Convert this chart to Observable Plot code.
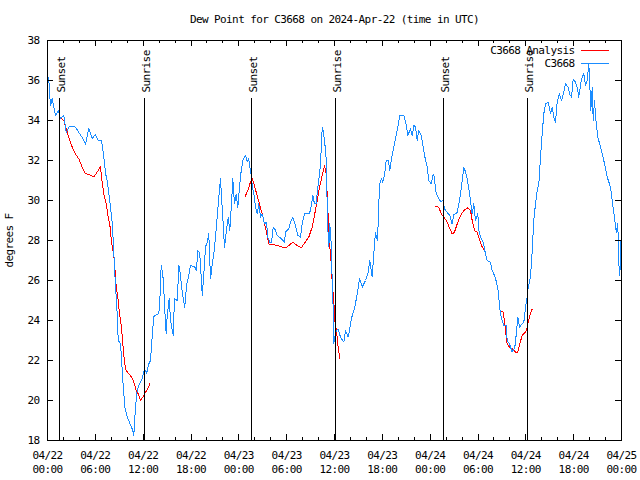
<!DOCTYPE html>
<html><head><meta charset="utf-8">
<script src="https://cdn.jsdelivr.net/npm/d3@7"></script>
<script src="https://cdn.jsdelivr.net/npm/@observablehq/plot@0.6"></script>
<style>
body{margin:0;background:#fff}
svg text{letter-spacing:-0.6px}
svg path, svg line{shape-rendering:crispEdges}
</style></head><body><div id="chart"></div>
<script>
// hours since 2024-04-22 00:00 UTC, dew point (F)
const station = [[0,36.2],[0.16,36.1],[0.25,35.4],[0.38,34.75],[0.59,35.1],[0.79,34.67],[1.0,34.25],[1.34,34.5],[1.63,34.1],[2.04,34.25],[2.35,33.4],[2.67,33.67],[3.10,33.7],[3.51,33.67],[3.93,33.4],[4.43,33.1],[4.77,32.8],[5.18,33.6],[5.61,33.1],[6.02,33.3],[6.36,33.0],[6.77,33.0],[7.06,32.2],[7.28,31.35],[7.49,31.0],[7.69,30.35],[7.90,29.67],[8.12,28.85],[8.24,28.0],[8.32,27.35],[8.44,26.35],[8.62,25.17],[8.74,24.35],[8.87,23.0],[9.16,22.85],[9.45,21.0],[9.70,19.67],[10.0,19.17],[10.29,18.9],[10.70,18.5],[10.83,18.25],[11.04,19.67],[11.25,20.5],[11.54,20.83],[11.88,21.1],[12.17,21.6],[12.42,21.35],[12.71,21.83],[12.92,22.0],[13.13,23.2],[13.33,24.2],[13.96,24.35],[14.09,25.0],[14.26,26.75],[14.46,26.35],[14.59,25.5],[14.80,23.85],[14.89,23.35],[15.01,24.2],[15.27,25.1],[15.43,24.0],[15.77,23.25],[15.93,25.1],[16.27,25.0],[16.49,26.75],[16.68,26.25],[16.90,25.4],[17.22,24.67],[17.44,25.75],[17.72,26.25],[17.94,26.75],[18.48,26.67],[18.69,26.5],[18.85,27.5],[19.10,27.35],[19.28,26.17],[19.41,25.25],[19.61,26.33],[19.82,27.67],[20.03,27.92],[20.23,28.33],[20.45,26.08],[20.66,26.83],[20.86,27.33],[21.07,28.17],[21.29,29.17],[21.49,30.17],[21.70,31.08],[21.83,30.17],[21.99,29.17],[22.20,27.67],[22.45,28.5],[22.67,29.17],[22.87,28.5],[23.08,29.83],[23.24,31.08],[23.46,29.83],[23.67,30.33],[23.87,29.67],[24.08,30.67],[24.30,31.5],[24.55,32.08],[24.84,32.25],[25.05,31.92],[25.25,32.08],[25.38,31.67],[25.55,31.25],[25.71,30.67],[25.88,30.33],[26.09,29.67],[26.30,29.33],[26.50,29.83],[26.72,29.17],[26.93,29.33],[27.22,28.83],[27.47,28.92],[27.63,28.17],[27.88,27.92],[28.10,27.92],[28.31,28.67],[28.51,28.58],[28.81,28.25],[29.23,28.13],[29.73,27.92],[29.85,28.42],[30.27,28.58],[30.48,28.92],[30.77,29.17],[31.11,28.75],[31.40,28.25],[31.74,28.17],[31.95,28.83],[32.24,29.33],[32.78,29.33],[32.99,29.5],[33.28,30.25],[33.49,29.83],[33.70,29.83],[33.91,30.67],[34.16,31.42],[34.33,32.5],[34.46,33.67],[34.58,33.5],[34.75,33.0],[34.87,32.5],[35.0,31.83],[35.08,29.67],[35.21,28.17],[35.29,27.67],[35.41,28.83],[35.59,27.83],[35.71,26.0],[35.84,24.5],[35.91,22.83],[36.04,23.17],[36.25,23.5],[36.46,23.58],[36.75,23.17],[37.17,22.92],[37.38,23.5],[37.72,23.17],[38.01,23.83],[38.22,24.25],[38.55,24.67],[38.85,25.33],[39.14,26.08],[39.48,25.67],[39.89,26.0],[40.23,26.42],[40.43,27.0],[40.73,26.17],[40.93,27.33],[41.14,28.42],[41.36,28.0],[41.48,28.83],[41.65,30.83],[41.90,31.08],[42.06,30.92],[42.27,31.25],[42.49,32.0],[42.74,32.0],[42.94,31.5],[43.11,32.0],[43.44,32.67],[43.86,33.5],[44.19,34.25],[44.69,34.25],[45.03,33.75],[45.19,33.25],[45.53,33.58],[45.75,33.25],[45.95,33.75],[46.16,33.67],[46.37,33.0],[46.57,33.5],[46.88,33.25],[47.20,32.5],[47.42,32.0],[47.63,31.67],[47.83,31.0],[48.13,30.83],[48.38,31.33],[48.54,31.17],[48.67,30.5],[48.88,30.25],[49.30,29.95],[49.63,30.0],[49.80,29.58],[50.14,29.4],[50.46,29.25],[50.74,28.83],[50.99,29.3],[51.39,29.4],[51.59,29.83],[51.81,30.33],[52.02,31.0],[52.22,31.67],[52.44,31.42],[52.65,31.08],[52.85,30.58],[53.06,30.0],[53.27,29.33],[53.47,29.83],[53.69,29.0],[53.98,29.33],[54.10,28.5],[54.31,28.17],[54.65,27.92],[54.94,27.33],[55.15,27.0],[55.57,26.92],[55.78,26.5],[56.07,26.25],[56.32,25.92],[56.53,25.5],[56.74,24.58],[56.91,24.17],[57.24,23.75],[57.54,23.75],[57.66,23.0],[57.95,22.83],[58.29,22.42],[58.62,22.67],[58.83,23.42],[58.99,24.17],[59.21,23.67],[59.54,23.83],[59.75,23.92],[59.96,24.67],[60.17,25.17],[60.30,25.67],[60.59,26.17],[60.80,27.5],[61.00,29.0],[61.21,29.83],[61.43,30.5],[61.63,30.83],[61.84,32.17],[62.05,33.33],[62.25,34.33],[62.47,34.83],[62.81,34.92],[63.10,34.33],[63.31,34.67],[63.51,34.17],[63.72,33.92],[63.93,34.92],[64.22,35.33],[64.48,35.0],[64.76,35.42],[64.98,35.83],[65.31,35.67],[65.48,35.33],[65.73,35.17],[65.94,36.08],[66.23,35.92],[66.44,35.67],[66.64,35.17],[66.98,36.08],[67.27,36.33],[67.48,35.75],[67.70,36.0],[67.90,36.83],[68.02,35.83],[68.15,34.5],[68.33,35.67],[68.45,34.0],[68.61,35.0],[68.83,33.83],[69.03,33.17],[69.37,32.67],[69.78,32.0],[70.21,31.17],[70.62,30.67],[70.83,30.0],[71.12,29.17],[71.34,28.42],[71.54,28.83],[71.66,26.83],[71.79,26.25],[71.97,28.33]];

// analysis; null breaks the line between segments
const analysis = [[1.63,34.13],[2.04,34.0],[2.35,33.58],[2.67,33.17],[3.10,32.67],[3.51,32.33],[3.93,32.08],[4.35,31.67],[4.68,31.37],[5.18,31.3],[5.81,31.17],[6.23,31.42],[6.65,31.7],[6.77,31.17],[7.06,30.33],[7.36,29.83],[7.61,29.17],[7.81,28.83],[8.03,27.92],[8.32,27.25],[8.44,26.67],[8.62,25.67],[8.87,25.0],[9.03,24.33],[9.28,23.67],[9.45,22.83],[9.66,21.92],[9.87,21.5],[10.20,21.33],[10.54,21.17],[10.83,20.92],[11.13,20.5],[11.38,20.33],[11.67,20.0],[11.95,20.17],[12.29,20.42],[12.58,20.58],[12.83,20.83],
[18.0,null],
[24.75,30.17],[25.13,30.5],[25.46,30.92],[25.71,31.08],[26.0,30.67],[26.30,30.25],[26.59,29.83],[26.93,29.33],[27.22,28.83],[27.47,28.42],[27.76,27.83],[28.19,27.8],[28.81,27.75],[29.85,27.63],[30.27,27.75],[30.77,27.92],[31.32,27.75],[31.82,27.63],[32.24,27.87],[32.78,28.17],[33.20,28.67],[33.49,29.25],[33.83,30.0],[34.16,30.75],[34.46,31.25],[34.75,31.75],[34.96,31.33],[35.08,30.33],[35.21,29.17],[35.34,28.0],[35.46,27.5],[35.59,26.83],[35.71,25.92],[35.91,25.0],[36.04,24.0],[36.25,23.5],[36.46,22.67],[36.67,22.08],
[42.0,null],
[48.67,29.7],[49.08,29.67],[49.39,29.33],[49.71,29.17],[50.14,28.92],[50.46,28.58],[50.77,28.33],[51.05,28.42],[51.39,28.83],[51.81,29.25],[52.22,29.5],[52.72,29.63],[53.06,29.5],[53.27,29.0],[53.56,28.5],[53.90,28.42],[54.23,28.0],[54.53,27.67],[54.82,27.5],[55.03,27.2],
[56.0,null],
[56.82,24.5],[57.16,24.42],[57.32,24.0],[57.54,23.17],[57.66,22.83],[57.95,22.67],[58.29,22.58],[58.70,22.42],[58.99,22.42],[59.24,22.83],[59.54,23.25],[59.83,23.37],[60.08,23.5],[60.30,23.92],[60.50,24.25],[60.80,24.58]];

const sunNames = ["Sunset","Sunrise","Sunset","Sunrise","Sunset","Sunrise"];
const sunHours = [1.55, 12.17, 25.59, 36.13, 49.71, 60.25];
const sunTop = 35.1, sunLabelY = 35.4;

const titleText = "Dew Point for C3668 on 2024-Apr-22 (time in UTC)";
const legendNames = ["C3668 Analysis", "C3668"];
const legendColors = ["#ff0000", "#1a8cff"];
const yTicks = [18,20,22,24,26,28,30,32,34,36,38];
const majorHours = [0,6,12,18,24,30,36,42,48,54,60,66,72];
const minorHours = [2,4,8,10,14,16,20,22,26,28,32,34,38,40,44,46,50,52,56,58,62,64,68,70];

const t0 = Date.UTC(2024, 3, 22);
const toDate = h => new Date(t0 + h * 3600e3);
const fmt = d3.utcFormat("%m/%d\n%H:%M");

const stationData = station.map(([h, v]) => ({t: toDate(h), v}));
const analysisData = analysis.map(([h, v]) => ({t: toDate(h), v}));
const sunData = sunHours.map((h, i) => ({t: toDate(h), name: sunNames[i]}));
const majors = majorHours.map(toDate), minors = minorHours.map(toDate);

const W = 640, H = 480, ML = 47, MR = 19, MT = 40, MB = 40;
const fw = W - ML - MR, fh = H - MT - MB;

const chart = Plot.plot({
  width: W, height: H,
  marginLeft: ML, marginRight: MR, marginTop: MT, marginBottom: MB,
  style: {fontFamily: "DejaVu Sans Mono", fontSize: "11px", background: "#fff", color: "#000", overflow: "visible"},
  x: {type: "utc", domain: [toDate(0), toDate(72)]},
  y: {domain: [18, 38]},
  marks: [
    Plot.line(analysisData, {x: "t", y: "v", stroke: legendColors[0], strokeWidth: 1}),
    Plot.line(stationData, {x: "t", y: "v", stroke: legendColors[1], strokeWidth: 1}),
    Plot.ruleX(sunData, {x: "t", y1: 18, y2: sunTop, stroke: "#000", strokeWidth: 1}),
    Plot.text(sunData, {x: "t", y: sunLabelY, text: "name", rotate: -90, textAnchor: "start", dx: 1.5, fill: "#000"}),
    // ticks (inward, mirrored)
    Plot.tickX(majors, {x: d => d, insetTop: fh - 6, stroke: "#000"}),
    Plot.tickX(majors, {x: d => d, insetBottom: fh - 6, stroke: "#000"}),
    Plot.tickX(minors, {x: d => d, insetTop: fh - 3, stroke: "#000"}),
    Plot.tickX(minors, {x: d => d, insetBottom: fh - 3, stroke: "#000"}),
    Plot.tickY(yTicks, {y: d => d, insetRight: fw - 6, stroke: "#000"}),
    Plot.tickY(yTicks, {y: d => d, insetLeft: fw - 6, stroke: "#000"}),
    Plot.axisX(majors, {tickSize: 0, tickPadding: 9, tickFormat: fmt, lineHeight: 1.27, label: null}),
    Plot.axisY(yTicks, {tickSize: 0, tickPadding: 8, label: "degrees F", labelAnchor: "center", labelArrow: "none", labelOffset: 42}),
    Plot.frame({stroke: "#000"}),
    Plot.text([titleText], {frameAnchor: "top", dy: -21, lineAnchor: "middle", fill: "#000"}),
    ...legendNames.map((name, i) => Plot.text([name], {frameAnchor: "top-right", dx: -47, dy: 10 + 13 * i, textAnchor: "end", lineAnchor: "middle", fill: "#000"})),
    ...legendNames.map((name, i) => Plot.tickY([38], {y: d => d, dy: 10 + 13 * i, insetLeft: fw - 40, insetRight: 12, stroke: legendColors[i]}))
  ]
});
document.getElementById("chart").appendChild(chart);
</script></body></html>
